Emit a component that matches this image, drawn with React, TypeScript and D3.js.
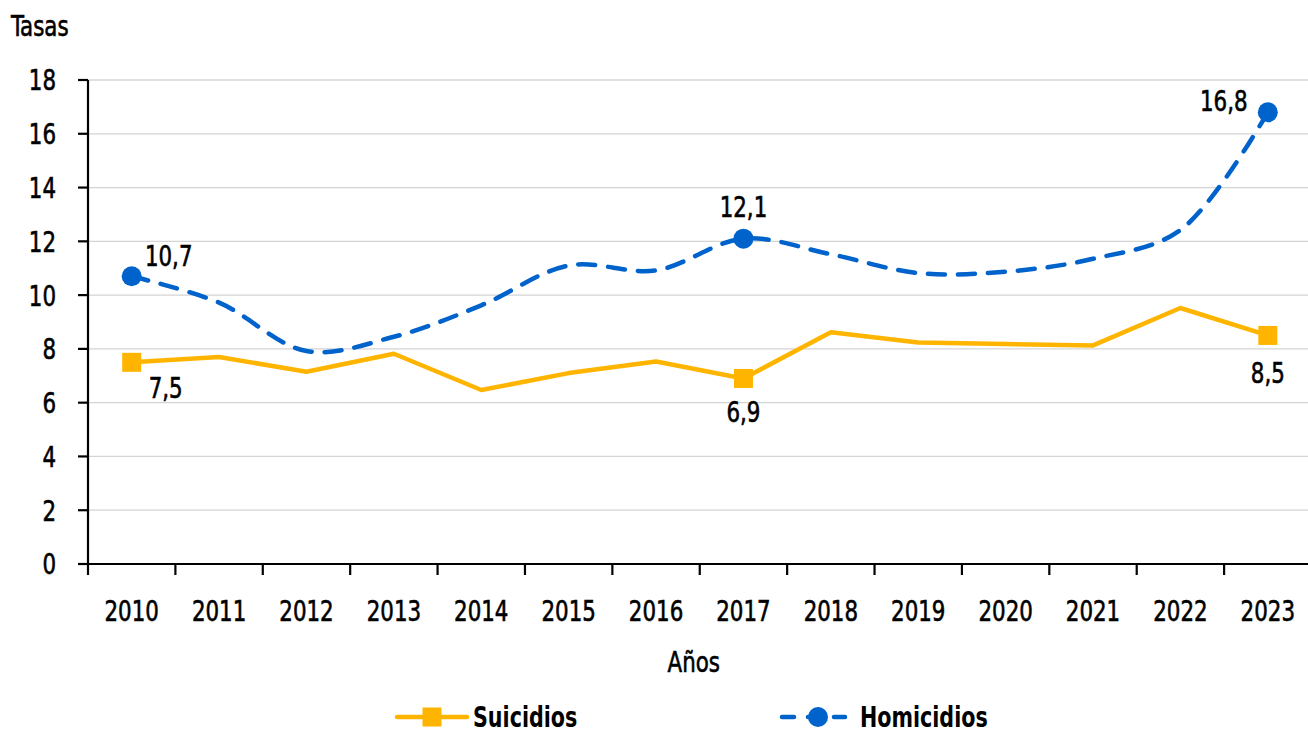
import React from "react";
import * as d3 from "d3";

const years = ["2010","2011","2012","2013","2014","2015","2016","2017","2018","2019","2020","2021","2022","2023"];
const suicidios = [7.5, 7.7, 7.15, 7.82, 6.47, 7.1, 7.53, 6.9, 8.62, 8.24, 8.18, 8.13, 9.52, 8.5];
const homicidios = [10.7, 9.72, 7.92, 8.45, 9.62, 11.1, 10.92, 12.1, 11.52, 10.82, 10.87, 11.35, 12.42, 16.8];
const yTicks = [0, 2, 4, 6, 8, 10, 12, 14, 16, 18];
const suiLabels = [{ i: 0, t: "7,5" }, { i: 7, t: "6,9" }, { i: 13, t: "8,5" }];
const homLabels = [{ i: 0, t: "10,7" }, { i: 7, t: "12,1" }, { i: 13, t: "16,8" }];

const W = 1308, H = 732;
const L = 88, R = 1311.5, T = 80, B = 564;
const YELLOW = "#FFB500";
const BLUE = "#0063CC";
const FONT = "'DejaVu Sans Condensed','DejaVu Sans',sans-serif";
const SX = 0.82;
const LEG_Y = 717;

function Txt(props: { x: number; y: number; anchor?: "start" | "middle" | "end"; bold?: boolean; dy?: string; size?: number; children: React.ReactNode }) {
  const { x, y, anchor = "start", bold = false, dy, size = 29, children } = props;
  return (
    <text
      transform={`translate(${x},${y}) scale(${SX},1)`}
      textAnchor={anchor}
      dy={dy}
      fontSize={size}
      fontWeight={bold ? "bold" : "normal"}
      fill="#000"
      stroke="#000"
      strokeWidth={bold ? 0 : 0.6}
    >
      {children}
    </text>
  );
}

export default function App() {
  const x = d3.scaleBand<string>().domain(years).range([L, R]);
  const y = d3.scaleLinear().domain([0, 18]).range([B, T]);
  const cx = (i: number) => (x(years[i]) as number) + x.bandwidth() / 2;

  const sLine = d3.line<number>().x((_, i) => cx(i)).y(d => y(d))(suicidios) as string;
  const hLine = d3.line<number>().x((_, i) => cx(i)).y(d => y(d)).curve(d3.curveCatmullRom.alpha(0.5))(homicidios) as string;

  const boundaries = years.map((yr) => x(yr) as number).concat([R]);

  return (
    <div style={{ position: "fixed", left: 0, top: 0, width: W, height: H, background: "#fff" }}>
      <svg width={W} height={H} style={{ fontFamily: FONT }}>
        <rect width={W} height={H} fill="#fff" />
        {yTicks.filter(t => t > 0).map(t => (
          <line key={"g" + t} x1={L} x2={R} y1={y(t)} y2={y(t)} stroke="#d4d4d4" strokeWidth={1.3} />
        ))}
        {/* y axis */}
        <line x1={L} x2={L} y1={T} y2={B} stroke="#000" strokeWidth={2.2} />
        {yTicks.map(t => (
          <g key={"yt" + t}>
            <line x1={L - 10} x2={L} y1={y(t)} y2={y(t)} stroke="#000" strokeWidth={2.2} />
            <Txt x={56} y={y(t)} dy="0.36em" anchor="end">{t}</Txt>
          </g>
        ))}
        {/* x axis */}
        <line x1={L} x2={R} y1={B} y2={B} stroke="#000" strokeWidth={2.2} />
        {boundaries.map((bx, i) => (
          <line key={"xt" + i} x1={bx} x2={bx} y1={B} y2={B + 11} stroke="#000" strokeWidth={2.2} />
        ))}
        {years.map((yr, i) => (
          <Txt key={"xl" + yr} x={cx(i)} y={621} anchor="middle">{yr}</Txt>
        ))}
        <Txt x={11} y={36}>Tasas</Txt>
        <Txt x={(L + R) / 2 - 6} y={672} anchor="middle">Años</Txt>

        {/* series */}
        <path d={sLine} fill="none" stroke={YELLOW} strokeWidth={4.5} strokeLinejoin="round" />
        <path d={hLine} fill="none" stroke={BLUE} strokeWidth={4.5} strokeDasharray="17 13" strokeLinecap="round" />
        {suiLabels.map(l => (
          <rect key={"sm" + l.i} x={cx(l.i) - 9.5} y={y(suicidios[l.i]) - 9.5} width={19} height={19} fill={YELLOW} />
        ))}
        {homLabels.map(l => (
          <circle key={"hm" + l.i} cx={cx(l.i)} cy={y(homicidios[l.i])} r={10} fill={BLUE} />
        ))}
        {/* data labels */}
        <Txt x={cx(0) + 34} y={y(suicidios[0]) + 36} anchor="middle">{suiLabels[0].t}</Txt>
        <Txt x={cx(7)} y={y(suicidios[7]) + 44} anchor="middle">{suiLabels[1].t}</Txt>
        <Txt x={cx(13)} y={y(suicidios[13]) + 48} anchor="middle">{suiLabels[2].t}</Txt>
        <Txt x={cx(0) + 37} y={y(homicidios[0]) - 10} anchor="middle">{homLabels[0].t}</Txt>
        <Txt x={cx(7)} y={y(homicidios[7]) - 22} anchor="middle">{homLabels[1].t}</Txt>
        <Txt x={cx(13) - 44} y={y(homicidios[13]) - 1} anchor="middle">{homLabels[2].t}</Txt>

        {/* legend */}
        <line x1={397} x2={467} y1={LEG_Y} y2={LEG_Y} stroke={YELLOW} strokeWidth={4.5} strokeLinecap="round" />
        <rect x={422.5} y={LEG_Y - 9.5} width={19} height={19} fill={YELLOW} />
        <Txt x={473} y={LEG_Y} dy="0.34em" size={28} bold>Suicidios</Txt>
        <line x1={782} x2={845} y1={LEG_Y} y2={LEG_Y} stroke={BLUE} strokeWidth={4.5} strokeDasharray="12 14" strokeLinecap="round" />
        <circle cx={818} cy={LEG_Y} r={10} fill={BLUE} />
        <Txt x={860} y={LEG_Y} dy="0.34em" size={28} bold>Homicidios</Txt>
      </svg>
    </div>
  );
}
